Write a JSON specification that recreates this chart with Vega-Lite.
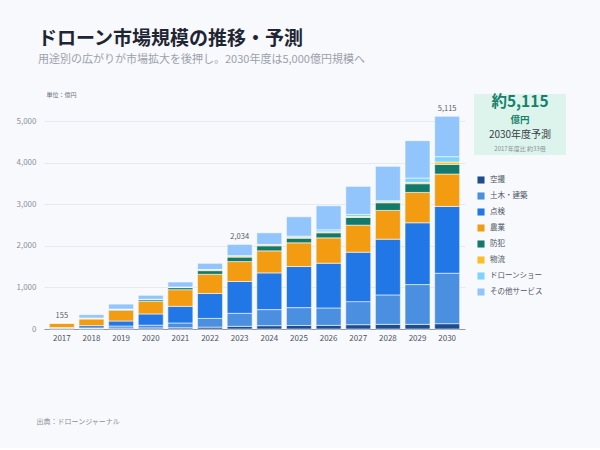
{
  "$schema": "https://vega.github.io/schema/vega-lite/v6.json",
  "background": "#f8f9fc",
  "padding": {"left": 16, "top": 30, "right": 34, "bottom": 24},
  "title": {
    "text": "ドローン市場規模の推移・予測",
    "subtitle": "用途別の広がりが市場拡大を後押し。2030年度は5,000億円規模へ",
    "anchor": "start",
    "dx": 22,
    "font": "Noto Sans CJK JP",
    "fontSize": 19,
    "fontWeight": "bold",
    "color": "#1f2633",
    "subtitleFont": "Noto Sans CJK JP",
    "subtitleFontSize": 11,
    "subtitleColor": "#9aa1ab",
    "subtitlePadding": 5,
    "offset": 26
  },
  "config": {
    "font": "Noto Sans CJK JP",
    "view": {"stroke": null}
  },
  "datasets": {
    "市場規模": [
      {"年度": 2017, "空撮": 10, "土木・建築": 10, "点検": 15, "農業": 110, "防犯": 3, "物流": 2, "ドローンショー": 0, "その他サービス": 5},
      {"年度": 2018, "空撮": 12, "土木・建築": 14, "点検": 55, "農業": 160, "防犯": 18, "物流": 6, "ドローンショー": 0, "その他サービス": 80},
      {"年度": 2019, "空撮": 22, "土木・建築": 50, "点検": 120, "農業": 255, "防犯": 24, "物流": 8, "ドローンショー": 0, "その他サービス": 120},
      {"年度": 2020, "空撮": 26, "土木・建築": 66, "点検": 270, "農業": 300, "防犯": 40, "物流": 12, "ドローンショー": 0, "その他サービス": 96},
      {"年度": 2021, "空撮": 30, "土木・建築": 115, "点検": 400, "農業": 400, "防犯": 50, "物流": 10, "ドローンショー": 4, "その他サービス": 121},
      {"年度": 2022, "空撮": 45, "土木・建築": 210, "点検": 600, "農業": 460, "防犯": 88, "物流": 24, "ドローンショー": 5, "その他サービス": 148},
      {"年度": 2023, "空撮": 64, "土木・建築": 313, "点検": 766, "農業": 478, "防犯": 108, "物流": 28, "ドローンショー": 6, "その他サービス": 271},
      {"年度": 2024, "空撮": 80, "土木・建築": 386, "点検": 883, "農業": 530, "防犯": 121, "物流": 24, "ドローンショー": 10, "その他サービス": 279},
      {"年度": 2025, "空撮": 85, "土木・建築": 429, "点検": 988, "農業": 570, "防犯": 112, "物流": 24, "ドローンショー": 24, "その他サービス": 466},
      {"年度": 2026, "空撮": 88, "土木・建築": 418, "点検": 1076, "農業": 610, "防犯": 121, "物流": 24, "ドローンショー": 48, "その他サービス": 578},
      {"年度": 2027, "空撮": 104, "土木・建築": 554, "点検": 1189, "農業": 650, "防犯": 185, "物流": 24, "ドローンショー": 48, "その他サービス": 675},
      {"年度": 2028, "空撮": 112, "土木・建築": 707, "点検": 1341, "農業": 691, "防犯": 184, "物流": 24, "ドローンショー": 25, "その他サービス": 827},
      {"年度": 2029, "空撮": 112, "土木・建築": 956, "点検": 1486, "農業": 730, "防犯": 209, "物流": 32, "ドローンショー": 105, "その他サービス": 899},
      {"年度": 2030, "空撮": 128, "土木・建築": 1213, "点検": 1606, "農業": 779, "防犯": 233, "物流": 56, "ドローンショー": 128, "その他サービス": 972}
    ]
  },
  "bounds": "flush",
  "spacing": 9,
  "hconcat": [
    {
      "width": 421,
      "height": 235,
      "data": {"name": "市場規模"},
      "transform": [
        {"fold": ["空撮", "土木・建築", "点検", "農業", "防犯", "物流", "ドローンショー", "その他サービス"], "as": ["用途", "億円"]},
        {"calculate": "indexof(['空撮', '土木・建築', '点検', '農業', '防犯', '物流', 'ドローンショー', 'その他サービス'], datum['用途'])", "as": "積み順"}
      ],
      "layer": [
        {
          "mark": {"type": "bar", "stroke": "#ffffff", "strokeWidth": 0.8, "strokeOpacity": 0.7},
          "encoding": {
            "x": {
              "field": "年度",
              "type": "ordinal",
              "scale": {"paddingInner": 0.157, "paddingOuter": 0.18},
              "axis": {
                "labelAngle": 0,
                "labelFontSize": 8,
                "labelColor": "#4b5563",
                "labelPadding": 5,
                "ticks": false,
                "domainColor": "#8e98a8",
                "domainWidth": 1,
                "title": "出典：ドローンジャーナル",
                "titleAnchor": "start",
                "titleAlign": "left",
                "titleBaseline": "middle",
                "titleX": -8,
                "titleY": 92,
                "titleFontSize": 7,
                "titleFontWeight": "normal",
                "titleColor": "#8a8f99"
              }
            },
            "y": {
              "field": "億円",
              "type": "quantitative",
              "stack": "zero",
              "scale": {"domain": [0, 5650], "nice": false},
              "axis": {
                "values": [0, 1000, 2000, 3000, 4000, 5000],
                "format": ",.0f",
                "labelFontSize": 8,
                "labelColor": "#8a919c",
                "labelPadding": 8,
                "ticks": false,
                "domain": false,
                "gridColor": "#e6e9ef",
                "title": "単位：億円",
                "titleAngle": 0,
                "titleAlign": "left",
                "titleBaseline": "middle",
                "titleX": 2,
                "titleY": 0,
                "titleFontSize": 6,
                "titleFontWeight": "normal",
                "titleColor": "#6b7280"
              }
            },
            "order": {"field": "積み順", "type": "quantitative", "sort": "ascending"},
            "color": {
              "field": "用途",
              "type": "nominal",
              "sort": ["空撮", "土木・建築", "点検", "農業", "防犯", "物流", "ドローンショー", "その他サービス"],
              "scale": {
                "domain": ["空撮", "土木・建築", "点検", "農業", "防犯", "物流", "ドローンショー", "その他サービス"],
                "range": ["#1e4d8f", "#4a8fe0", "#2277e6", "#f39c12", "#137a6b", "#fbbf24", "#7dd3fc", "#93c5fd"]
              },
              "legend": {
                "orient": "none",
                "legendX": 433,
                "legendY": 82,
                "title": null,
                "padding": 0,
                "symbolType": "square",
                "symbolSize": 50,
                "symbolStrokeWidth": 0,
                "labelFontSize": 7.5,
                "labelColor": "#4b5563",
                "labelOffset": 5,
                "rowPadding": 8
              }
            }
          }
        },
        {
          "transform": [
            {"aggregate": [{"op": "sum", "field": "億円", "as": "合計"}], "groupby": ["年度"]},
            {"filter": {"field": "年度", "oneOf": [2017, 2023, 2030]}}
          ],
          "mark": {"type": "text", "dy": -7, "fontSize": 7.5, "color": "#555b66"},
          "encoding": {
            "x": {"field": "年度", "type": "ordinal"},
            "y": {"field": "合計", "type": "quantitative"},
            "text": {"field": "合計", "type": "quantitative", "format": ","}
          }
        }
      ]
    },
    {
      "width": 92,
      "height": 61,
      "view": {"fill": "#dcf4ec", "stroke": null},
      "data": {"name": "市場規模"},
      "transform": [
        {"fold": ["空撮", "土木・建築", "点検", "農業", "防犯", "物流", "ドローンショー", "その他サービス"], "as": ["用途", "億円"]},
        {"filter": {"field": "年度", "oneOf": [2017, 2030]}},
        {"aggregate": [{"op": "sum", "field": "億円", "as": "合計"}], "groupby": ["年度"]},
        {"pivot": "年度", "value": "合計"},
        {"calculate": "'約' + format(datum['2030'], ',')", "as": "見出し"},
        {"calculate": "'2017年度比 約' + round(datum['2030'] / datum['2017']) + '倍'", "as": "比較"}
      ],
      "layer": [
        {
          "mark": {"type": "text", "fontSize": 15.5, "fontWeight": "bold", "color": "#17806a", "dy": -22.5},
          "encoding": {"text": {"field": "見出し"}}
        },
        {
          "mark": {"type": "text", "fontSize": 9.5, "fontWeight": "bold", "color": "#17806a", "dy": -4.5, "text": "億円"},
          "encoding": {}
        },
        {
          "mark": {"type": "text", "fontSize": 10, "color": "#3a3f47", "dy": 10, "text": "2030年度予測"},
          "encoding": {}
        },
        {
          "mark": {"type": "text", "fontSize": 6, "color": "#8a8f99", "dy": 24},
          "encoding": {"text": {"field": "比較"}}
        }
      ]
    }
  ]
}
